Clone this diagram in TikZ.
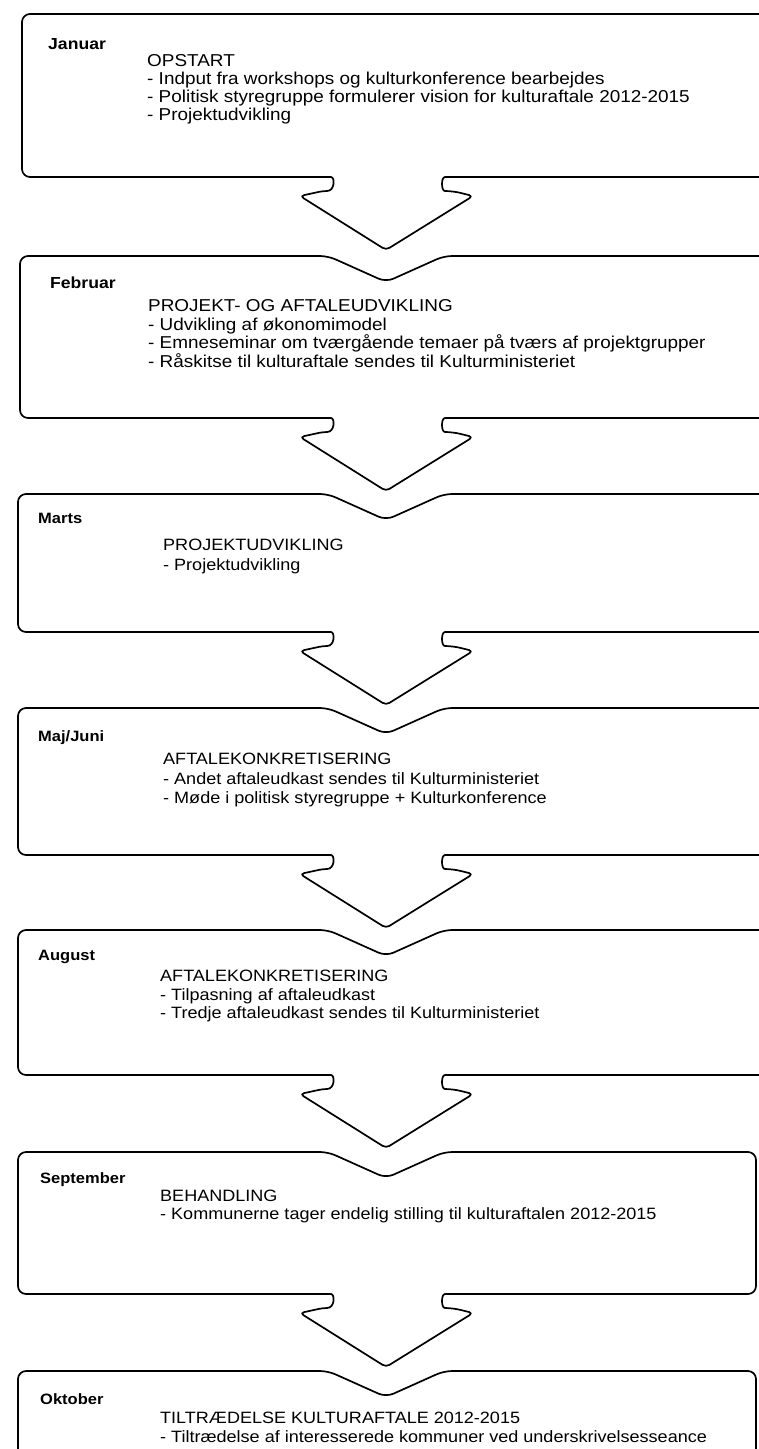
\documentclass[tikz,border=0pt]{standalone}
\usepackage{fontspec}
\setmainfont[FakeStretch=1.1]{Liberation Sans}
\newcommand\notchpath[1]{-- (328,#1) -- (386,#1+26) -- (444,#1)}
\newcommand\chevpath[1]{-- (453,#1) .. controls (441,#1) and (441,#1+14) .. (453,#1+14) [rounded corners=4pt] -- (473,#1+19) -- (386,#1+73) -- (300,#1+19) -- (323,#1+14) [rounded corners=8pt] .. controls (335,#1+14) and (335,#1) .. (323,#1)}
\begin{document}
\begin{tikzpicture}[x=1pt,y=-1pt,
  outline/.style={line width=1.7pt, line join=round},
  month/.style={anchor=west, inner sep=0pt, font=\fontsize{15}{18}\selectfont\bfseries, text height=11pt, text depth=3pt},
  bigmonth/.style={month, font=\fontsize{16}{18}\selectfont\bfseries},
  item/.style={anchor=west, inner sep=0pt, font=\fontsize{16.4}{18}\selectfont, text height=12pt, text depth=3.5pt},
  bigitem/.style={item, font=\fontsize{17.2}{18}\selectfont}]
\useasboundingbox[fill=white] (0,0) rectangle (758,1449);
% box outlines
\draw[outline, rounded corners=8pt] (200,14) -- (770,14) -- (770,177) \chevpath{177} -- (22,177) -- (22,14) -- cycle;
\draw[outline, rounded corners=8pt] (200,256) \notchpath{256} -- (770,256) -- (770,418) \chevpath{418} -- (20,418) -- (20,256) -- cycle;
\draw[outline, rounded corners=8pt] (200,494) \notchpath{494} -- (770,494) -- (770,632) \chevpath{632} -- (18,632) -- (18,494) -- cycle;
\draw[outline, rounded corners=8pt] (200,708) \notchpath{708} -- (770,708) -- (770,855) \chevpath{855} -- (18,855) -- (18,708) -- cycle;
\draw[outline, rounded corners=8pt] (200,930) \notchpath{930} -- (770,930) -- (770,1075) \chevpath{1075} -- (18,1075) -- (18,930) -- cycle;
\draw[outline, rounded corners=8pt] (200,1152) \notchpath{1152} -- (756,1152) -- (756,1294) \chevpath{1294} -- (18,1294) -- (18,1152) -- cycle;
\draw[outline, rounded corners=8pt] (18,1480) -- (18,1371) -- (200,1371) \notchpath{1371} -- (756,1371) -- (756,1480);
% Januar
\node[bigmonth] (m1) at (48,45) {Januar};
\node[bigitem] (t1a) at (147,62) {OPSTART};
\node[bigitem] (t1b) at (147,80) {- Indput fra workshops og kulturkonference bearbejdes};
\node[bigitem] (t1c) at (147,98) {- Politisk styregruppe formulerer vision for kulturaftale 2012-2015};
\node[bigitem] (t1d) at (147,116) {- Projektudvikling};
% Februar
\node[bigmonth] (m2) at (50,284) {Februar};
\node[bigitem] (t2a) at (148,307) {PROJEKT- OG AFTALEUDVIKLING};
\node[bigitem] (t2b) at (148,326) {- Udvikling af økonomimodel};
\node[bigitem] (t2c) at (148,344) {- Emneseminar om tværgående temaer på tværs af projektgrupper};
\node[bigitem] (t2d) at (148,363) {- Råskitse til kulturaftale sendes til Kulturministeriet};
% Marts
\node[month] (m3) at (38,519) {Marts};
\node[item] (t3a) at (163,546) {PROJEKTUDVIKLING};
\node[item] (t3b) at (163,566) {- Projektudvikling};
% Maj/Juni
\node[month] (m4) at (38,737) {Maj/Juni};
\node[item] (t4a) at (163,760) {AFTALEKONKRETISERING};
\node[item] (t4b) at (163,780) {- Andet aftaleudkast sendes til Kulturministeriet};
\node[item] (t4c) at (163,799) {- Møde i politisk styregruppe + Kulturkonference};
% August
\node[month] (m5) at (38,956) {August};
\node[item] (t5a) at (160,977) {AFTALEKONKRETISERING};
\node[item] (t5b) at (160,996) {- Tilpasning af aftaleudkast};
\node[item] (t5c) at (160,1014) {- Tredje aftaleudkast sendes til Kulturministeriet};
% September
\node[month] (m6) at (40,1179) {September};
\node[item] (t6a) at (160,1197) {BEHANDLING};
\node[item] (t6b) at (160,1215) {- Kommunerne tager endelig stilling til kulturaftalen 2012-2015};
% Oktober
\node[month] (m7) at (40,1400) {Oktober};
\node[item] (t7a) at (160,1419) {TILTRÆDELSE KULTURAFTALE 2012-2015};
\node[item] (t7b) at (160,1438) {- Tiltrædelse af interesserede kommuner ved underskrivelsesseance};
\end{tikzpicture}
\end{document}
